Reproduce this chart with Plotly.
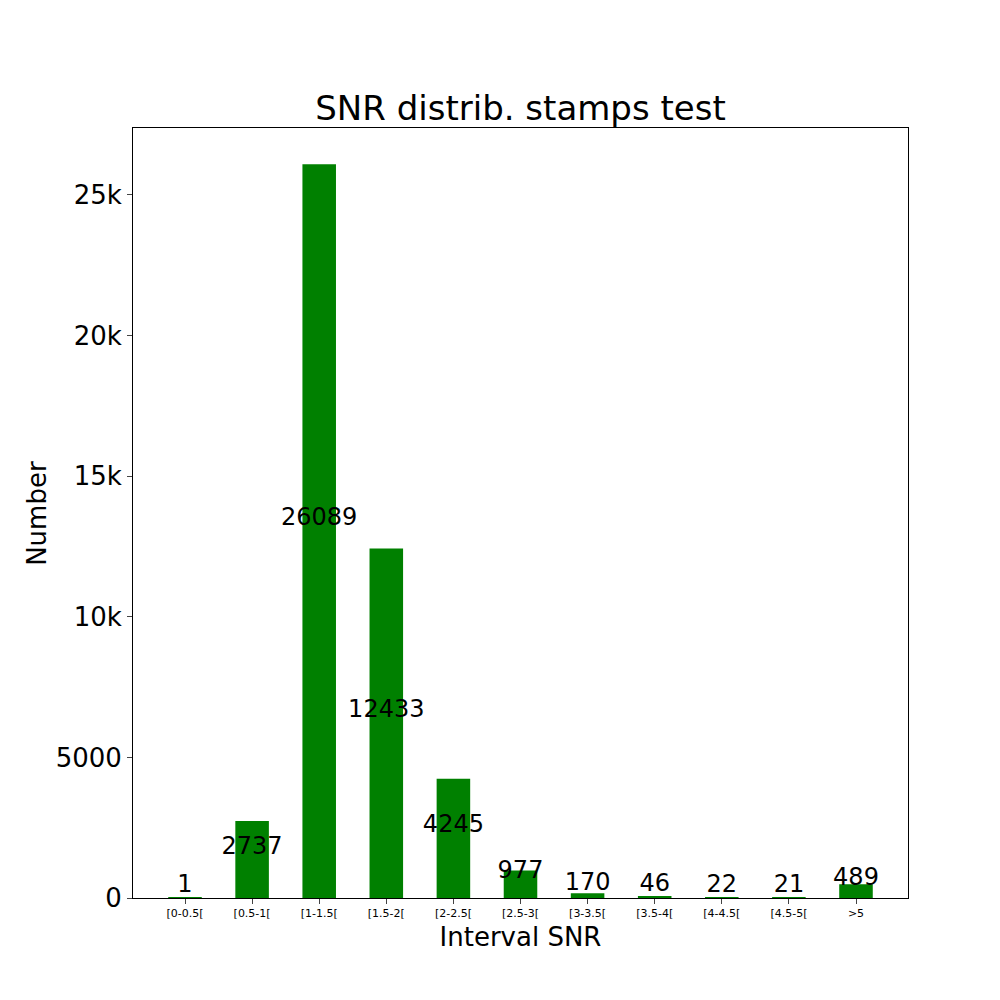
import plotly.graph_objects as go

categories = ['[0-0.5[', '[0.5-1[', '[1-1.5[', '[1.5-2[', '[2-2.5[', '[2.5-3[',
              '[3-3.5[', '[3.5-4[', '[4-4.5[', '[4.5-5[', '>5']
counts = [1, 2737, 26089, 12433, 4245, 977, 170, 46, 22, 21, 489]
xpos = list(range(len(categories)))

font = 'DejaVu Sans'
fig = go.Figure()
fig.add_trace(go.Bar(x=xpos, y=counts, width=0.5, marker_color='green',
                     marker_line_width=0))
fig.add_trace(go.Scatter(x=xpos, y=[c / 2 for c in counts], mode='text',
                         text=[str(c) for c in counts], textposition='top center',
                         textfont=dict(size=24, color='black', family=font)))

fig.update_layout(
    width=1000, height=1000, showlegend=False,
    plot_bgcolor='white', paper_bgcolor='white',
    margin=dict(l=125, r=100, t=120, b=110),
    font=dict(family=font, color='black'),
    title=dict(text='SNR distrib. stamps test', x=0.5125, y=0.9, xanchor='center',
               yanchor='middle', font=dict(size=34)),
    xaxis=dict(range=[-0.775, 10.775], tickvals=xpos, ticktext=categories,
               tickfont=dict(size=11), ticks='outside', ticklen=5,
               showgrid=False, zeroline=False, showline=True, mirror=True,
               linecolor='black', linewidth=1,
               title=dict(text='Interval SNR', font=dict(size=26), standoff=8)),
    yaxis=dict(range=[0, 27382], tickvals=[0, 5000, 10000, 15000, 20000, 25000],
               tickfont=dict(size=26), ticks='outside', ticklen=5,
               showgrid=False, zeroline=False, showline=True, mirror=True,
               linecolor='black', linewidth=1),
    annotations=[dict(text='Number', xref='paper', yref='paper', x=-0.146, y=0.5,
                      textangle=-90, showarrow=False, font=dict(size=26))],
)
fig.write_html("out.html")
